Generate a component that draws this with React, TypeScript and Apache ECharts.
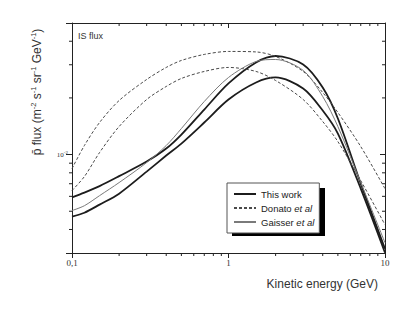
import React, { useEffect, useRef } from "react";
import * as echarts from "echarts";

// Kinetic energy grid (GeV)
const energy = [0.1, 0.12, 0.15, 0.2, 0.3, 0.4, 0.5, 0.7, 1, 1.5, 2, 3, 4, 5, 7, 10];
// Antiproton flux (m^-2 s^-1 sr^-1 GeV^-1)
const thisWorkUpper = [0.00593, 0.00628, 0.0068, 0.00768, 0.00918, 0.01076, 0.01277, 0.01735, 0.02387, 0.03086, 0.0334, 0.0301, 0.0227, 0.01554, 0.00701, 0.00316];
const thisWorkLower = [0.00468, 0.00491, 0.00542, 0.0062, 0.00812, 0.00988, 0.01144, 0.0148, 0.01961, 0.02415, 0.02568, 0.02244, 0.01714, 0.01293, 0.00659, 0.00301];
const donatoUpper = [0.00842, 0.01117, 0.0148, 0.01937, 0.02506, 0.02903, 0.03162, 0.03404, 0.03531, 0.0351, 0.03321, 0.02764, 0.02137, 0.01673, 0.01103, 0.00659];
const donatoLower = [0.00644, 0.00764, 0.01025, 0.01409, 0.01961, 0.023, 0.02537, 0.02764, 0.02903, 0.02764, 0.02475, 0.01961, 0.01498, 0.01172, 0.00727, 0.00424];
const gaisser = [0.00504, 0.00535, 0.00605, 0.0071, 0.00907, 0.01117, 0.01375, 0.01914, 0.02568, 0.03124, 0.032, 0.028, 0.02034, 0.01409, 0.0071, 0.0034];

const legendNames = ["This work", "Donato et al", "Gaisser et al"];
const X_MIN = 0.1;
const X_MAX = 10;
const Y_MIN = 0.003;
const Y_MAX = 0.05;
const xMinorTicks = [0.2, 0.3, 0.4, 0.5, 0.6, 0.7, 0.8, 0.9, 2, 3, 4, 5, 6, 7, 8, 9];
const yMinorTicks = [0.004, 0.005, 0.006, 0.007, 0.008, 0.009, 0.02, 0.03, 0.04];

const SANS = "Liberation Sans, Arial, sans-serif";
const SERIF = "Liberation Serif, Times New Roman, serif";
const AXIS = "#222";

const pairs = (ys: number[]) => energy.map((e, i) => [e, ys[i]]);

export default function App() {
  const ref = useRef<HTMLDivElement>(null);
  useEffect(() => {
    document.body.style.margin = "0";
    if (!ref.current) return;
    const chart = echarts.init(ref.current, null, { renderer: "svg" });
    const solidThick = { color: "#1c1c1c", width: 1.8, type: "solid" as const };
    const dashed = { color: "#4a4a4a", width: 1, type: [3, 2] as any };
    const thin = { color: "#7a7a7a", width: 1, type: "solid" as const };
    const lineSeries = (name: string, ys: number[], ls: any) => ({
      type: "line",
      name,
      data: pairs(ys),
      smooth: 0.3,
      symbol: "none",
      showSymbol: false,
      lineStyle: ls,
      itemStyle: { color: ls.color },
      color: ls.color,
      z: 3,
    });
    const tickStyle = { stroke: AXIS, lineWidth: 1 };
    chart.setOption({
      animation: false,
      grid: { left: 72, right: 30, top: 23, bottom: 59 },
      xAxis: [
        {
          type: "log",
          logBase: 10,
          min: X_MIN,
          max: X_MAX,
          position: "bottom",
          axisLine: { show: true, lineStyle: { color: AXIS, width: 1 } },
          axisTick: { show: true, inside: false, length: 5, lineStyle: { color: AXIS } },
          minorTick: { show: false },
          splitLine: { show: false },
          axisLabel: {
            margin: 5,
            fontFamily: SERIF,
            fontSize: 9,
            color: "#333",
            formatter: (v: number) => (v < 0.5 ? "0,1" : String(Math.round(v))),
          },
        },
        {
          type: "log",
          logBase: 10,
          min: X_MIN,
          max: X_MAX,
          position: "top",
          axisLine: { show: true, lineStyle: { color: AXIS, width: 1 } },
          axisTick: { show: true, inside: true, length: 5, lineStyle: { color: AXIS } },
          axisLabel: { show: false },
          splitLine: { show: false },
        },
      ],
      yAxis: [
        {
          type: "log",
          logBase: 10,
          min: Y_MIN,
          max: Y_MAX,
          position: "left",
          axisLine: { show: true, lineStyle: { color: AXIS, width: 1 } },
          axisTick: { show: true, inside: false, length: 6, lineStyle: { color: AXIS } },
          splitLine: { show: false },
          axisLabel: {
            margin: 4,
            fontFamily: SERIF,
            fontSize: 7,
            color: "#333",
            formatter: (v: number) => (Math.abs(v - 0.01) < 1e-6 ? "10{s|-2}" : ""),
            rich: {
              s: { fontSize: 5, fontFamily: SERIF, color: "#333", verticalAlign: "top", padding: [0, 0, 4, 0] },
            },
          },
        },
        {
          type: "log",
          logBase: 10,
          min: Y_MIN,
          max: Y_MAX,
          position: "right",
          axisLine: { show: true, lineStyle: { color: AXIS, width: 1 } },
          axisTick: { show: true, inside: true, length: 5, lineStyle: { color: AXIS } },
          axisLabel: { show: false },
          splitLine: { show: false },
        },
      ],
      legend: {
        data: legendNames,
        orient: "vertical",
        left: 227,
        top: 183,
        padding: [6, 5, 6, 6],
        itemGap: 4,
        itemWidth: 22,
        itemHeight: 9,
        backgroundColor: "#fff",
        borderColor: "#555",
        borderWidth: 1,
        z: 10,
        itemStyle: { opacity: 0 },
        textStyle: {
          fontFamily: SANS,
          fontSize: 9.5,
          color: "#222",
          rich: {
            i: { fontFamily: SANS, fontSize: 9.5, fontStyle: "italic", color: "#222" },
          },
        },
        formatter: (name: string) =>
          name.endsWith(" et al") ? name.replace(" et al", "") + " {i|et al}" : name,
      },
      graphic: [
        {
          type: "rect",
          left: 232,
          top: 188,
          shape: { width: 93, height: 48 },
          style: { fill: "#000" },
          z: 5,
          silent: true,
        },
        {
          type: "text",
          left: 78,
          top: 31,
          style: { text: "IS flux", font: `9px ${SANS}`, fill: "#333" },
        },
        {
          type: "text",
          x: 378,
          y: 284,
          style: {
            text: "Kinetic energy (GeV)",
            font: `12px ${SANS}`,
            fill: "#333",
            align: "right",
            verticalAlign: "middle",
          },
        },
        {
          type: "text",
          x: 37,
          y: 92,
          rotation: Math.PI / 2,
          style: {
            text: "{n|p\u0304 flux (m}{s|-2}{n| s}{s|-1}{n| sr}{s|-1}{n| GeV}{s|-1}{n|)}",
            align: "center",
            verticalAlign: "middle",
            fill: "#333",
            rich: {
              n: { fontFamily: SANS, fontSize: 12, fill: "#333", color: "#333", lineHeight: 16 },
              s: { fontFamily: SANS, fontSize: 7.5, fill: "#333", color: "#333", lineHeight: 16, verticalAlign: "top", padding: [0, 0, 6, 0] },
            },
          },
        },
      ],
      series: [
        lineSeries("This work", thisWorkUpper, solidThick),
        lineSeries("This work", thisWorkLower, solidThick),
        lineSeries("Donato et al", donatoUpper, dashed),
        lineSeries("Donato et al", donatoLower, dashed),
        lineSeries("Gaisser et al", gaisser, thin),
        {
          type: "custom",
          name: "xminor",
          coordinateSystem: "cartesian2d",
          silent: true,
          data: xMinorTicks.map((v) => [v, Y_MIN]),
          renderItem: (_p: any, api: any) => {
            const v = api.value(0);
            const b = api.coord([v, Y_MIN]);
            const t = api.coord([v, Y_MAX]);
            return {
              type: "group",
              children: [
                { type: "line", shape: { x1: b[0], y1: b[1], x2: b[0], y2: b[1] + 3 }, style: tickStyle },
                { type: "line", shape: { x1: t[0], y1: t[1], x2: t[0], y2: t[1] + 3 }, style: tickStyle },
              ],
            };
          },
        },
        {
          type: "custom",
          name: "yminor",
          coordinateSystem: "cartesian2d",
          silent: true,
          data: yMinorTicks.map((v) => [X_MIN, v]),
          renderItem: (_p: any, api: any) => {
            const v = api.value(1);
            const l = api.coord([X_MIN, v]);
            const r = api.coord([X_MAX, v]);
            return {
              type: "group",
              children: [
                { type: "line", shape: { x1: l[0] - 3, y1: l[1], x2: l[0], y2: l[1] }, style: tickStyle },
                { type: "line", shape: { x1: r[0] - 3, y1: r[1], x2: r[0], y2: r[1] }, style: tickStyle },
              ],
            };
          },
        },
      ],
    });
    return () => chart.dispose();
  }, []);
  return <div ref={ref} style={{ width: 415, height: 312 }} />;
}
